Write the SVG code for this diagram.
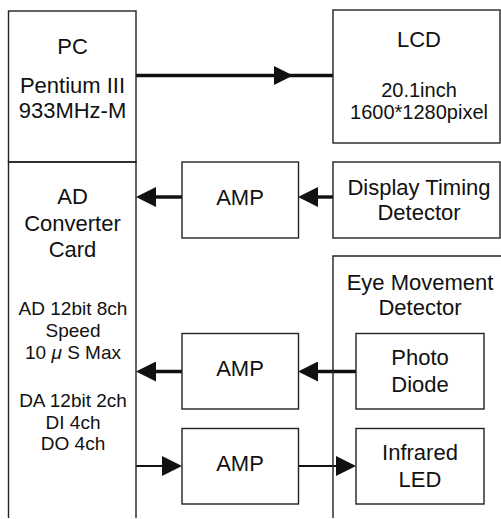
<svg xmlns="http://www.w3.org/2000/svg" width="501" height="519" viewBox="0 0 501 519">
<style>
  .box { fill: #ffffff; stroke: #222; stroke-width: 1.4; }
  .edge { fill: none; stroke: #222; stroke-width: 1.4; }
  .t { font-family: "Liberation Sans", Arial, sans-serif; font-size: 22px; fill: #111; text-anchor: middle; }
  .s { font-size: 19px; }
  .m { font-size: 20px; }
  .thick { fill: none; stroke: #111; stroke-width: 3.4; }
  .thin { fill: none; stroke: #111; stroke-width: 1.8; }
</style>
<defs>
  <marker id="ah" markerUnits="userSpaceOnUse" markerWidth="20" markerHeight="20" refX="16" refY="10" orient="auto">
    <path d="M0,0 L20,10 L0,20 Z" fill="#111"/>
  </marker>
  <marker id="ahm" markerUnits="userSpaceOnUse" markerWidth="19" markerHeight="19" refX="19" refY="9.5" orient="auto">
    <path d="M0,0 L19,9.5 L0,19 Z" fill="#111"/>
  </marker>
</defs>
<rect width="501" height="519" fill="#ffffff"/>

<g id="connectors">
  <path class="thick" d="M136,75.5 L293,75.5 L333,75.5" marker-mid="url(#ahm)"/>
  <path class="thick" d="M182,197 L140,197" marker-end="url(#ah)"/>
  <path class="thick" d="M333,197 L302,197" marker-end="url(#ah)"/>
  <path class="thick" d="M356,371.5 L302,371.5" marker-end="url(#ah)"/>
  <path class="thick" d="M182,371.5 L140,371.5" marker-end="url(#ah)"/>
  <path class="thin" d="M136,466 L178,466" marker-end="url(#ah)"/>
  <path class="thin" d="M298,466 L352,466" marker-end="url(#ah)"/>
</g>

<g id="pc">
  <rect class="box" x="8.5" y="11" width="127.5" height="151"/>
  <text class="t" x="72.5" y="54">PC</text>
  <text class="t" x="72.5" y="92.5">Pentium III</text>
  <text class="t" x="72.5" y="118">933MHz-M</text>
</g>

<g id="ad-converter">
  <path class="edge" d="M8.5,518 L8.5,162 L136,162 L136,518"/>
  <text class="t" x="72.5" y="203.5">AD</text>
  <text class="t" x="72.5" y="231">Converter</text>
  <text class="t" x="72.5" y="257">Card</text>
  <text class="t s" x="73" y="315">AD 12bit 8ch</text>
  <text class="t s" x="73" y="336.5">Speed</text>
  <text class="t s" x="73" y="358.5">10 <tspan font-style="italic">μ</tspan> S Max</text>
  <text class="t s" x="73" y="406.5">DA 12bit 2ch</text>
  <text class="t s" x="73" y="428.5">DI 4ch</text>
  <text class="t s" x="73" y="450">DO 4ch</text>
</g>

<g id="lcd">
  <rect class="box" x="333" y="10" width="167" height="133"/>
  <text class="t" x="419" y="46.7">LCD</text>
  <text class="t m" x="419" y="96.5">20.1inch</text>
  <text class="t m" x="419" y="118.5">1600*1280pixel</text>
</g>

<g id="amp1">
  <rect class="box" x="182" y="162" width="116.5" height="76"/>
  <text class="t" x="240" y="204.5">AMP</text>
</g>

<g id="display-timing">
  <rect class="box" x="333" y="162" width="167" height="76"/>
  <text class="t" x="419" y="194.5">Display Timing</text>
  <text class="t" x="419" y="220">Detector</text>
</g>

<g id="eye-movement">
  <path class="edge" d="M333,518 L333,256 L501,256"/>
  <text class="t" x="420" y="289.5">Eye Movement</text>
  <text class="t" x="420" y="315">Detector</text>
</g>

<g id="amp2">
  <rect class="box" x="182" y="333.5" width="116.5" height="75.5"/>
  <text class="t" x="240" y="375.7">AMP</text>
</g>

<g id="photo-diode">
  <rect class="box" x="356" y="333.5" width="128" height="75.5"/>
  <text class="t" x="420" y="365">Photo</text>
  <text class="t" x="420" y="391.7">Diode</text>
</g>

<g id="amp3">
  <rect class="box" x="182" y="428.5" width="116.5" height="75.5"/>
  <text class="t" x="240" y="470.7">AMP</text>
</g>

<g id="infrared-led">
  <rect class="box" x="356" y="428.5" width="128" height="75.5"/>
  <text class="t" x="420" y="460">Infrared</text>
  <text class="t" x="420" y="486.7">LED</text>
</g>
</svg>
